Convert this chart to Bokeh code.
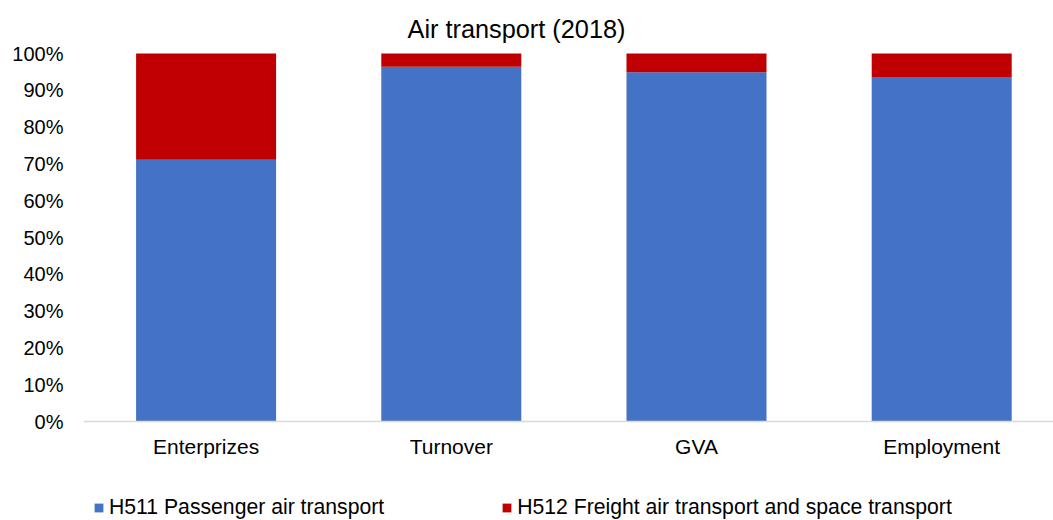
from bokeh.plotting import figure
from bokeh.models import Range1d, FixedTicker, NumeralTickFormatter, Legend, LegendItem, ColumnDataSource, Label
from bokeh.embed import file_html
from bokeh.resources import INLINE

categories = ["Enterprizes", "Turnover", "GVA", "Employment"]
h511 = [0.711, 0.964, 0.949, 0.936]
h512 = [0.289, 0.036, 0.051, 0.064]
series_names = ["H511 Passenger air transport", "H512 Freight air transport and space transport"]
y_ticks = [0.0, 0.1, 0.2, 0.3, 0.4, 0.5, 0.6, 0.7, 0.8, 0.9, 1.0]
title_text = "Air transport (2018)"

FONT = "Liberation Sans"
x_idx = list(range(len(categories)))
source = ColumnDataSource(dict(x=x_idx, h511=h511, h512=h512))

W, H = 1053, 520
LEFT = 83
TOP_PX, ZERO_PX = 53, 421      # pixel rows of 100% and 0%
unit = ZERO_PX - TOP_PX
p = figure(width=W, height=H,
           x_range=Range1d(-0.5, -0.5 + (W - LEFT) / 245.2),
           y_range=Range1d(-(H - ZERO_PX) / unit, 1 + TOP_PX / unit),
           output_backend="svg", toolbar_location=None,
           min_border_left=LEFT, min_border_right=0, min_border_top=0, min_border_bottom=0)
p.outline_line_color = None
p.grid.visible = False

title = Label(x=433, y=H - 28, x_units="screen", y_units="screen", text=title_text,
              text_font=FONT, text_font_size="25.3px", text_color="black",
              text_align="center", text_baseline="alphabetic")
p.add_layout(title)

rs = p.vbar_stack(["h511", "h512"], x="x", width=0.571, source=source,
                  color=["#4472C4", "#C00000"], line_color=None)

p.yaxis.ticker = FixedTicker(ticks=y_ticks)
p.yaxis.formatter = NumeralTickFormatter(format="0%")
p.yaxis.axis_line_color = None
p.yaxis.major_tick_line_color = None
p.yaxis.minor_tick_line_color = None
p.yaxis.major_label_text_font = FONT
p.yaxis.major_label_text_font_size = "20px"
p.yaxis.major_label_text_color = "black"
p.yaxis.major_label_standoff = 14

p.xaxis.fixed_location = 0
p.xaxis.ticker = FixedTicker(ticks=x_idx)
p.xaxis.major_label_overrides = {i: c for i, c in enumerate(categories)}
p.xaxis.axis_line_color = "#D9D9D9"
p.xaxis.axis_line_width = 1.5
p.xaxis.major_tick_line_color = None
p.xaxis.minor_tick_line_color = None
p.xaxis.major_label_text_font = FONT
p.xaxis.major_label_text_font_size = "21px"
p.xaxis.major_label_text_color = "black"
p.xaxis.major_label_standoff = 7

legend = Legend(items=[LegendItem(label=series_names[0], renderers=[rs[0]]),
                       LegendItem(label=series_names[1], renderers=[rs[1]])],
                orientation="horizontal", location=(10, 1),
                glyph_width=11, glyph_height=11, label_standoff=5, spacing=117,
                label_text_font=FONT, label_text_font_size="21.2px", label_text_color="black",
                border_line_color=None, background_fill_alpha=0, padding=0, margin=0)
p.add_layout(legend)

open("out.html", "w").write(file_html(p, INLINE))
